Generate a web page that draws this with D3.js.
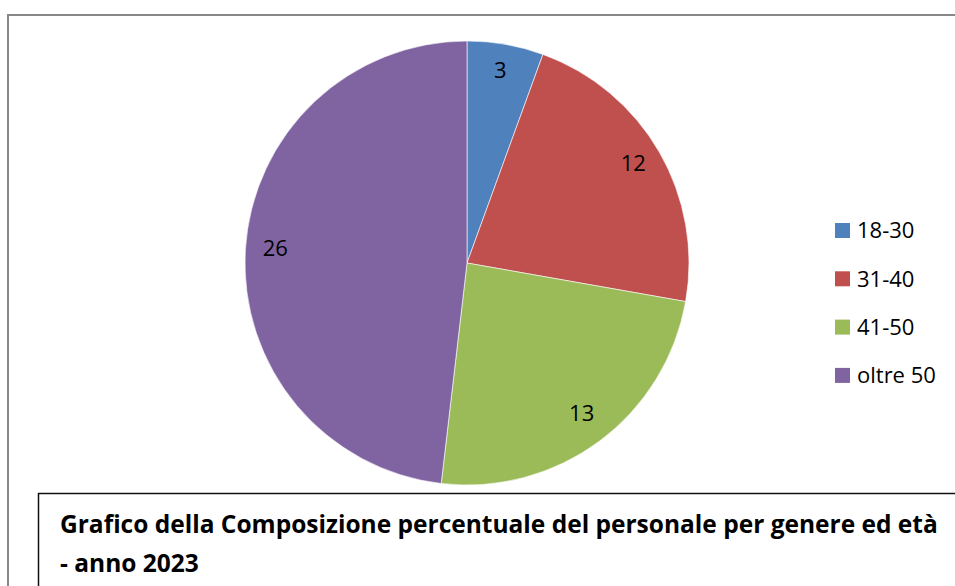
<!DOCTYPE html>
<meta charset="utf-8">
<style>
body { margin: 0; background: #fff; }
text { font-family: "Open Sans", Lato, sans-serif; fill: #000; }
</style>
<svg width="955" height="586"></svg>
<script src="https://cdn.jsdelivr.net/npm/d3@7"></script>
<script>

// Data
var categories = ["18-30", "31-40", "41-50", "oltre 50"];
var values = [3, 12, 13, 26];
var colors = ["#4F81BD", "#C0504D", "#9BBB59", "#8064A2"];
var titleLines = ["Grafico della Composizione percentuale del personale per genere ed età", "- anno 2023"];

var svg = d3.select("svg"),
    width = +svg.attr("width"),
    height = +svg.attr("height");

// outer chart frame
svg.append("rect")
    .attr("x", 8)
    .attr("y", 15)
    .attr("width", 1000)
    .attr("height", 700)
    .attr("fill", "#fff")
    .attr("stroke", "#888")
    .attr("stroke-width", 2);

var cx = 467, cy = 263, radius = 222;

var color = d3.scaleOrdinal()
    .domain(categories)
    .range(colors);

var pie = d3.pie()
    .sort(null)
    .value(function(d) { return d.value; });

var arc = d3.arc()
    .innerRadius(0)
    .outerRadius(radius);

var data = categories.map(function(c, i) { return {name: c, value: values[i]}; });

var g = svg.append("g")
    .attr("transform", "translate(" + cx + "," + cy + ")");

var slices = g.selectAll("g.slice")
  .data(pie(data))
  .enter().append("g")
    .attr("class", "slice");

slices.append("path")
    .attr("d", arc)
    .attr("fill", function(d) { return color(d.data.name); })
    .attr("stroke", "#fff")
    .attr("stroke-width", 0.6);

// value labels, a bit inside the rim
slices.append("text")
    .attr("transform", function(d) {
      var a = (d.startAngle + d.endAngle) / 2;
      return "translate(" + (Math.sin(a) * radius * 0.865) + "," + (-Math.cos(a) * radius * 0.865 - 4) + ")";
    })
    .attr("text-anchor", "middle")
    .attr("dy", "0.35em")
    .attr("font-size", 22)
    .text(function(d) { return d.data.value; });

// legend
var legend = svg.append("g")
    .attr("transform", "translate(835,223)");

var item = legend.selectAll("g")
  .data(categories)
  .enter().append("g")
    .attr("transform", function(d, i) { return "translate(0," + (i * 48.3) + ")"; });

item.append("rect")
    .attr("width", 15)
    .attr("height", 15)
    .attr("fill", function(d) { return color(d); });

item.append("text")
    .attr("x", 22)
    .attr("y", 7.5)
    .attr("dy", "0.35em")
    .attr("font-size", 22)
    .text(function(d) { return d; });

// title box
svg.append("rect")
    .attr("x", 38.5)
    .attr("y", 493.5)
    .attr("width", 1000)
    .attr("height", 200)
    .attr("fill", "#fff")
    .attr("stroke", "#111")
    .attr("stroke-width", 1.5);

svg.append("g").selectAll("text")
  .data(titleLines)
  .enter().append("text")
    .attr("x", 60)
    .attr("y", function(d, i) { return 533 + i * 39; })
    .attr("font-size", 24.5)
    .attr("font-weight", "bold")
    .text(function(d) { return d; });

</script>
